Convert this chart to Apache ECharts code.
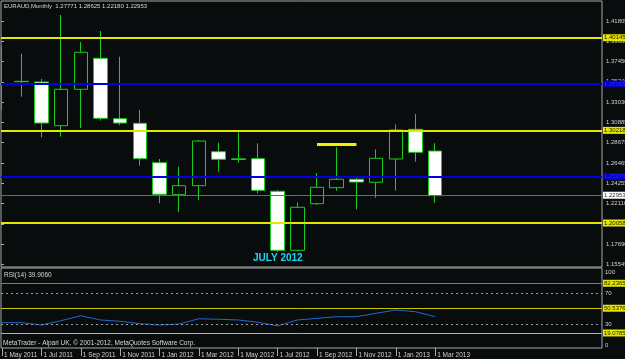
<!DOCTYPE html>
<html>
<head>
<meta charset="utf-8">
<script src="https://cdn.jsdelivr.net/npm/echarts@6/dist/echarts.min.js"></script>
<style>
html,body{margin:0;padding:0;background:#090c0c;}
#c{width:625px;height:359px;}
</style>
</head>
<body>
<div id="c"></div>
<script>
// ---- data ----
const months = ['1 May 2011','1 Jun 2011','1 Jul 2011','1 Aug 2011','1 Sep 2011','1 Oct 2011','1 Nov 2011','1 Dec 2011',
  '1 Jan 2012','1 Feb 2012','1 Mar 2012','1 Apr 2012','1 May 2012','1 Jun 2012','1 Jul 2012','1 Aug 2012',
  '1 Sep 2012','1 Oct 2012','1 Nov 2012','1 Dec 2012','1 Jan 2013','1 Feb 2013','1 Mar 2013'];
const futureMonths = ['1 Apr 2013','1 May 2013','1 Jun 2013','1 Jul 2013','1 Aug 2013','1 Sep 2013','1 Oct 2013','1 Nov 2013'];
const opens  = [1.3502,1.35254,1.35221,1.30505,1.34433,1.37779,1.31260,1.30764,1.26511,1.23058,1.24029,1.27699,1.26857,1.26943,1.23424,1.17057,1.22086,1.23813,1.24720,1.24396,1.26911,1.30116,1.27771];
const closes = [1.3502,1.35297,1.30796,1.34433,1.38427,1.31303,1.30796,1.26943,1.23101,1.24029,1.28853,1.26878,1.26932,1.23532,1.17057,1.21698,1.23856,1.24720,1.24428,1.26986,1.30041,1.27634,1.22953];
const highs  = [1.39107,1.38276,1.35545,1.42453,1.39539,1.40726,1.37952,1.32199,1.26911,1.26080,1.28961,1.28670,1.30041,1.28605,1.23565,1.22237,1.25400,1.28173,1.24936,1.27958,1.30656,1.31768,1.28625];
const lows   = [1.32199,1.33635,1.29253,1.29318,1.30257,1.31044,1.30548,1.26188,1.22129,1.21190,1.22486,1.25540,1.26511,1.23209,1.16873,1.16927,1.21946,1.23489,1.21482,1.22734,1.23489,1.26619,1.22180];
const rsi    = [32.2,32.2,29.2,34.7,41.0,35.6,33.9,30.9,29.2,30.5,37.2,36.5,35.6,32.7,28.0,35.6,37.7,39.8,39.8,44.1,48.3,46.1,39.906];
const priceTicks = ['1.41805','1.39660','1.37450','1.35240','1.33030','1.30885','1.28675','1.26465','1.24255','1.22110','1.19900','1.17690','1.15545'];
const yellowLevels = [1.40145, 1.30218, 1.20058];
const blueLevels = [1.35005, 1.25076];
const bidPrice = 1.22953;
const trendLevel = 1.28454;
const trendFrom = '1 Sep 2012', trendTo = '1 Nov 2012';
const rsiDotted = [70, 30];
const rsiYellow = [82.2365, 50.5376, 19.0785];
const rsiTicks = [100, 70, 30, 0];

// ---- chart ----
const cats = months.concat(futureMonths);
const candleData = opens.map((o, i) => [o, closes[i], lows[i], highs[i]]);
const FONT = 'Liberation Sans';
const PMIN = 1.15254, PMAX = 1.43964;
const plotL = 2, plotW = 590.7;           // candle/RSI plot (category spacing)
const frameR = 23;                          // right edge of panels at x=602
const tickFn = (i) => i % 2 === 0 && i < months.length;

const lvlLabel = (txt, bg, col) => ({
  show: true, position: 'end', distance: 1, formatter: txt,
  backgroundColor: bg, color: col, fontSize: 6, fontFamily: FONT, padding: [1, 1, 0, 1]
});

const priceMarks = [];
yellowLevels.forEach(v => priceMarks.push({yAxis: v, lineStyle: {color: '#e6e600', width: 2, type: 'solid'}, label: lvlLabel(v.toFixed(5), '#e6e600', '#202000')}));
blueLevels.forEach(v => priceMarks.push({yAxis: v, lineStyle: {color: '#0000e0', width: 2, type: 'solid'}, label: lvlLabel(v.toFixed(5), '#0000c8', '#2a2aff')}));
priceMarks.push({yAxis: bidPrice, lineStyle: {color: '#6a6a6a', width: 1, type: 'solid'}, label: lvlLabel(bidPrice.toFixed(5), '#ffffff', '#303030')});

const rsiMarks = [];
rsiDotted.forEach(v => rsiMarks.push({yAxis: v, lineStyle: {color: '#9a9a9a', width: 1, type: [2, 3]}, label: {show: false}}));
rsiYellow.forEach((v, i) => rsiMarks.push({yAxis: v, lineStyle: {color: i === 0 ? '#8c8c00' : '#c8c800', width: 1, type: 'solid'}, label: lvlLabel(v.toFixed(4), '#e6e600', '#202000')}));

const txt = (text, left, top, extra) => ({
  text, left, top, padding: 0,
  textStyle: Object.assign({color: '#d8d8d8', fontSize: 6.5, fontWeight: 'normal', fontFamily: FONT}, extra || {})
});

const G = (o) => Object.assign({outerBoundsMode: 'none', containLabel: false}, o);

const option = {
  animation: false,
  backgroundColor: '#090c0c',
  title: [
    txt('EURAUD,Monthly  1.27771 1.28625 1.22180 1.22953', 4, 3.5, {fontSize: 6}),
    txt('RSI(14) 39.9060', 4, 271.5),
    txt('MetaTrader - Alpari UK, \u00a9 2001-2012, MetaQuotes Software Corp.', 3, 339.5),
    txt('JULY 2012', 253, 253, {color: '#1ad8f2', fontSize: 10, fontWeight: 'bold'})
  ],
  grid: [
    G({left: 1, top: 1, right: frameR, height: 266, show: true, borderColor: '#a8a8a8', borderWidth: 1, backgroundColor: 'transparent'}),
    G({left: plotL, top: 1, width: plotW, height: 266}),
    G({left: 1, top: 21, right: frameR, height: 243.3}),
    G({left: 1, top: 268, right: frameR, height: 80, show: true, borderColor: '#a8a8a8', borderWidth: 1, backgroundColor: 'transparent'}),
    G({left: plotL, top: 269.3, width: plotW, height: 78.7}),
    G({left: 1, top: 269.3, right: frameR, height: 78.7})
  ],
  xAxis: [
    {gridIndex: 0, type: 'value', min: 0, max: 1, show: false},
    {gridIndex: 1, type: 'category', data: cats, show: false, boundaryGap: false},
    {gridIndex: 2, type: 'value', min: 0, max: 1, show: false},
    {gridIndex: 3, type: 'value', min: 0, max: 1, show: false},
    {gridIndex: 4, type: 'category', data: cats, boundaryGap: false,
      axisLine: {show: false},
      axisTick: {show: true, interval: tickFn, length: 8, lineStyle: {color: '#a8a8a8'}},
      axisLabel: {interval: tickFn, align: 'left', margin: 3.5, padding: [0, 0, 0, 2], color: '#d0d0d0', fontSize: 6.5, fontFamily: FONT,
        formatter: (v, i) => i < months.length ? v : ''},
      splitLine: {show: false}},
    {gridIndex: 5, type: 'value', min: 0, max: 1, show: false}
  ],
  yAxis: [
    {gridIndex: 0, type: 'value', min: PMIN, max: PMAX, show: false},
    {gridIndex: 1, type: 'value', min: PMIN, max: PMAX, show: false},
    {gridIndex: 2, type: 'value', min: 0, max: 12, interval: 1, inverse: true, position: 'right',
      axisLine: {show: false}, splitLine: {show: false},
      axisTick: {show: true, length: 3, lineStyle: {color: '#a8a8a8'}},
      axisLabel: {margin: 4, color: '#d0d0d0', fontSize: 6, fontFamily: FONT, formatter: v => priceTicks[Math.round(v)] || ''}},
    {gridIndex: 3, type: 'value', min: 0, max: 1, show: false},
    {gridIndex: 4, type: 'value', min: 0, max: 100, show: false},
    {gridIndex: 5, type: 'value', min: 0, max: 100, interval: 10, position: 'right',
      axisLine: {show: false}, splitLine: {show: false}, axisTick: {show: false},
      axisLabel: {margin: 3, color: '#d0d0d0', fontSize: 6, fontFamily: FONT,
        verticalAlignMaxLabel: 'top', verticalAlignMinLabel: 'bottom',
        formatter: v => rsiTicks.indexOf(Math.round(v)) >= 0 ? String(Math.round(v)) : ''}}
  ],
  series: [
    {type: 'line', xAxisIndex: 0, yAxisIndex: 0, data: [], silent: true,
      markLine: {silent: true, symbol: ['none', 'none'], animation: false, data: priceMarks}},
    {type: 'candlestick', xAxisIndex: 1, yAxisIndex: 1, data: candleData, barWidth: 14, clip: false,
      itemStyle: {color: '#090c0c', color0: '#ffffff', borderColor: '#1ccc1c', borderColor0: '#1ccc1c', borderWidth: 1},
      markLine: {silent: true, symbol: ['none', 'none'], animation: false, data: [[
        {coord: [trendFrom, trendLevel], lineStyle: {color: '#f0f000', width: 3, type: 'solid'}, label: {show: false}},
        {coord: [trendTo, trendLevel]}
      ]]}},
    {type: 'line', xAxisIndex: 4, yAxisIndex: 4, data: rsi, showSymbol: false, symbol: 'none',
      lineStyle: {color: '#1e6ad2', width: 1}, itemStyle: {color: '#1e6ad2'}},
    {type: 'line', xAxisIndex: 5, yAxisIndex: 5, data: [], silent: true,
      markLine: {silent: true, symbol: ['none', 'none'], animation: false, data: rsiMarks}}
  ]
};
const chart = echarts.init(document.getElementById('c'), null, {renderer: 'canvas'});
chart.setOption(option);
</script>
</body>
</html>
